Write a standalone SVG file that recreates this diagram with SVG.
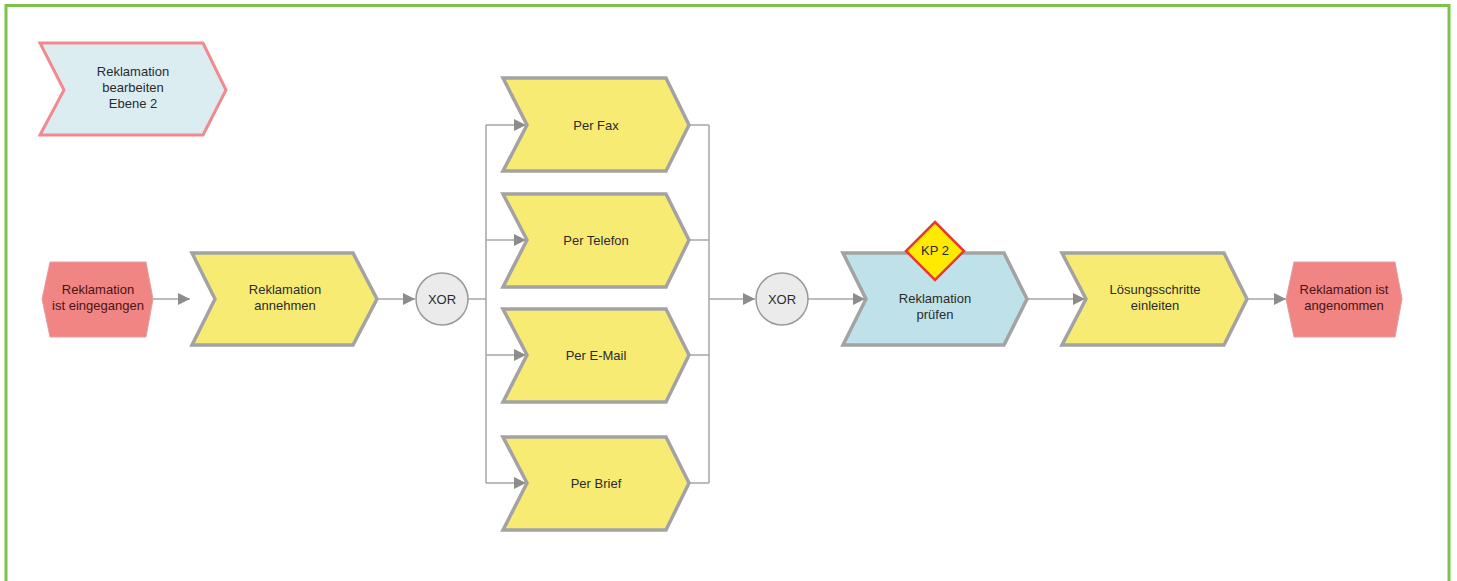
<svg xmlns="http://www.w3.org/2000/svg" width="1457" height="581" viewBox="0 0 1457 581">
  <defs>
    <marker id="arrow" viewBox="0 0 10 10" refX="10" refY="5" markerWidth="18" markerHeight="12" markerUnits="userSpaceOnUse" orient="auto">
      <path d="M0,0 L10,5 L0,10 Z" fill="#8c8c8c"/>
    </marker>
  </defs>
  <style>
    .frame { fill: none; stroke: #7dc24b; stroke-width: 3; }
    .func { fill: #f8eb74; stroke: #a3a3a3; stroke-width: 3.5; stroke-linejoin: miter; }
    .func-blue { fill: #bfe1ea; stroke: #a3a3a3; stroke-width: 3.5; }
    .proc { fill: #dcedf2; stroke: #f08a90; stroke-width: 3; }
    .event { fill: #f08583; stroke: #e0a0a0; stroke-width: 1; }
    .gate { fill: #ebebeb; stroke: #9a9a9a; stroke-width: 1.5; }
    .kp { fill: #ffea00; stroke: #e53a2e; stroke-width: 2.5; }
    .conn { fill: none; stroke: #a6a6a6; stroke-width: 1.5; }
    .lbl { font-family: "Liberation Sans", Arial, sans-serif; font-size: 13px; fill: #2b2b2b; text-anchor: middle; }
    .lbl-ev { font-family: "Liberation Sans", Arial, sans-serif; font-size: 13px; fill: #4a1414; text-anchor: middle; }
  </style>

  <rect width="1457" height="581" fill="#ffffff"/>
  <!-- outer frame, open at the bottom -->
  <path class="frame" d="M6,590 L6,5.5 L1449,5.5 L1449,590"/>

  <!-- connectors -->
  <g id="connectors">
    <line class="conn" x1="153" y1="299" x2="190" y2="299" marker-end="url(#arrow)"/>
    <line class="conn" x1="378" y1="299" x2="415" y2="299" marker-end="url(#arrow)"/>
    <path class="conn" d="M468,299 L486,299"/>
    <path class="conn" d="M486,125 L486,483"/>
    <line class="conn" x1="486" y1="125" x2="526" y2="125" marker-end="url(#arrow)"/>
    <line class="conn" x1="486" y1="240" x2="526" y2="240" marker-end="url(#arrow)"/>
    <line class="conn" x1="486" y1="355" x2="526" y2="355" marker-end="url(#arrow)"/>
    <line class="conn" x1="486" y1="483" x2="526" y2="483" marker-end="url(#arrow)"/>
    <path class="conn" d="M689,125 L709,125 M689,240 L709,240 M689,355 L709,355 M689,483 L709,483 M709,125 L709,483"/>
    <line class="conn" x1="709" y1="299" x2="755" y2="299" marker-end="url(#arrow)"/>
    <line class="conn" x1="808" y1="299" x2="865" y2="299" marker-end="url(#arrow)"/>
    <line class="conn" x1="1028" y1="299" x2="1085" y2="299" marker-end="url(#arrow)"/>
    <line class="conn" x1="1248" y1="299" x2="1286" y2="299" marker-end="url(#arrow)"/>
  </g>

  <!-- process interface -->
  <g id="proc-ebene2">
    <path class="proc" d="M40,43 L203,43 L226,90 L203,135 L40,135 L64,90 Z"/>
    <text class="lbl" y="76"><tspan x="133">Reklamation</tspan><tspan x="133" dy="16">bearbeiten</tspan><tspan x="133" dy="16">Ebene 2</tspan></text>
  </g>

  <!-- start event -->
  <g id="ev-eingegangen">
    <path class="event" d="M42,299 L50,262 L146,262 L153,299 L146,337 L50,337 Z"/>
    <text class="lbl-ev" y="294"><tspan x="98">Reklamation</tspan><tspan x="98" dy="16">ist eingegangen</tspan></text>
  </g>

  <g id="fn-annehmen">
    <path class="func" d="M192,253 L353,253 L377,299 L353,345 L192,345 L215,299 Z"/>
    <text class="lbl" y="294"><tspan x="285">Reklamation</tspan><tspan x="285" dy="16">annehmen</tspan></text>
  </g>

  <g id="xor-split">
    <circle class="gate" cx="442" cy="299" r="26"/>
    <text class="lbl" x="442" y="304">XOR</text>
  </g>

  <g id="fn-fax">
    <path class="func" d="M503,78 L666,78 L689,125 L666,171 L503,171 L527,125 Z"/>
    <text class="lbl" x="596" y="130">Per Fax</text>
  </g>
  <g id="fn-telefon">
    <path class="func" d="M503,194 L666,194 L689,240 L666,287 L503,287 L527,240 Z"/>
    <text class="lbl" x="596" y="245">Per Telefon</text>
  </g>
  <g id="fn-email">
    <path class="func" d="M503,309 L666,309 L689,355 L666,402 L503,402 L527,355 Z"/>
    <text class="lbl" x="596" y="360">Per E-Mail</text>
  </g>
  <g id="fn-brief">
    <path class="func" d="M503,437 L666,437 L689,483 L666,530 L503,530 L527,483 Z"/>
    <text class="lbl" x="596" y="488">Per Brief</text>
  </g>

  <g id="xor-join">
    <circle class="gate" cx="782" cy="299" r="26"/>
    <text class="lbl" x="782" y="304">XOR</text>
  </g>

  <g id="fn-pruefen">
    <path class="func-blue" d="M843,253 L1004,253 L1027,299 L1004,345 L843,345 L866,299 Z"/>
    <text class="lbl" y="303"><tspan x="935">Reklamation</tspan><tspan x="935" dy="16">prüfen</tspan></text>
  </g>

  <g id="kp2">
    <path class="kp" d="M935,222 L964,251 L935,280 L906,251 Z"/>
    <text class="lbl" x="935" y="255">KP 2</text>
  </g>

  <g id="fn-loesung">
    <path class="func" d="M1062,253 L1224,253 L1247,299 L1224,345 L1062,345 L1086,299 Z"/>
    <text class="lbl" y="294"><tspan x="1155">Lösungsschritte</tspan><tspan x="1155" dy="16">einleiten</tspan></text>
  </g>

  <!-- end event -->
  <g id="ev-angenommen">
    <path class="event" d="M1286,299 L1294,262 L1395,262 L1402,299 L1395,337 L1294,337 Z"/>
    <text class="lbl-ev" y="294"><tspan x="1344">Reklamation ist</tspan><tspan x="1344" dy="16">angenommen</tspan></text>
  </g>
</svg>
